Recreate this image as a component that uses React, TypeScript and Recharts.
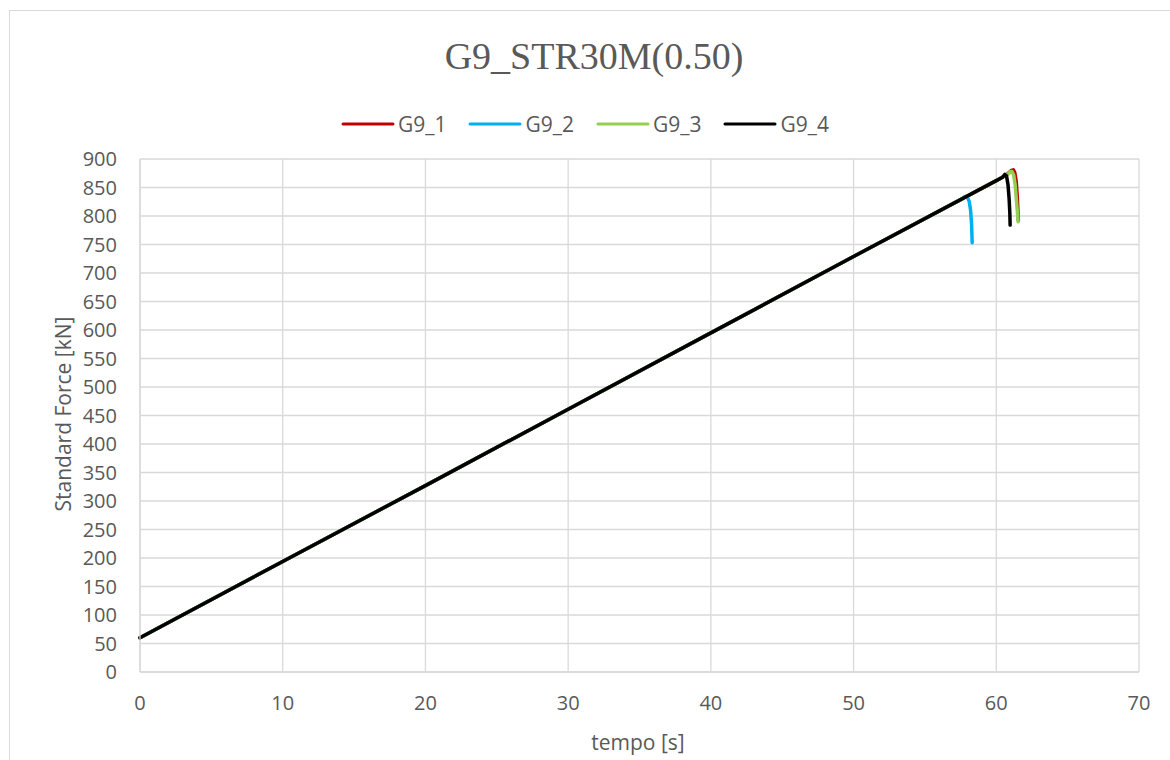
import React from "react"
import { LineChart, Line, XAxis, YAxis, CartesianGrid } from "recharts"

// tempo [s] / Standard Force [kN]
const g91Time = [0, 10, 20, 30, 40, 50, 60, 60.8, 61.05, 61.2, 61.3, 61.4, 61.48, 61.53, 61.55]
const g91Force = [60, 194, 327, 461, 595, 729, 862, 874, 880, 881, 876, 860, 830, 800, 792]

const g92Time = [0, 10, 20, 30, 40, 50, 57.6, 57.8, 57.95, 58.1, 58.2, 58.27, 58.31]
const g92Force = [60, 194, 327, 461, 595, 729, 830, 834, 834, 826, 810, 785, 753]

const g93Time = [0, 10, 20, 30, 40, 50, 60, 60.8, 61.0, 61.1, 61.22, 61.32, 61.42, 61.5, 61.53]
const g93Force = [60, 194, 327, 461, 595, 729, 862, 873, 878, 878, 872, 855, 825, 800, 790]

const g94Time = [0, 10, 20, 30, 40, 50, 60, 60.45, 60.6, 60.72, 60.82, 60.9, 60.95, 60.97]
const g94Force = [60, 194, 327, 461, 595, 729, 862, 868, 873, 870, 855, 830, 805, 784]

const xTicks = [0, 10, 20, 30, 40, 50, 60, 70]
const yTicks = [0, 50, 100, 150, 200, 250, 300, 350, 400, 450, 500, 550, 600, 650, 700, 750, 800, 850, 900]

const toPoints = (t: number[], f: number[]) => t.map((v, i) => ({ t: v, f: f[i] }))

const series = [
  { name: "G9_1", color: "#C00000", data: toPoints(g91Time, g91Force) },
  { name: "G9_2", color: "#00B0F0", data: toPoints(g92Time, g92Force) },
  { name: "G9_3", color: "#92D050", data: toPoints(g93Time, g93Force) },
  { name: "G9_4", color: "#000000", data: toPoints(g94Time, g94Force) },
]

const font = "'Open Sans', 'Noto Sans', sans-serif"
const textGray = "#595959"
const gridGray = "#d9d9d9"

function ChartLegend() {
  return (
    <div style={{ position: "absolute", left: 343, top: 110, display: "flex", fontFamily: font, fontSize: 21, color: textGray, lineHeight: "28px" }}>
      {series.map((s, i) => (
        <div key={s.name} style={{ display: "flex", alignItems: "center", marginLeft: i === 0 ? 0 : 24 }}>
          <svg width={54} height={8} style={{ marginLeft: -2 }}>
            <line x1={2} y1={4} x2={52} y2={4} stroke={s.color} strokeWidth={3} strokeLinecap="round" />
          </svg>
          <span style={{ marginLeft: 3 }}>{s.name}</span>
        </div>
      ))}
    </div>
  )
}

export default function App() {
  return (
    <div style={{ position: "absolute", left: 0, top: 0, width: 1170, height: 760, overflow: "hidden", background: "#fff" }}>
      <div style={{ position: "absolute", left: 9, top: 10, width: 1200, height: 800, border: `1px solid ${gridGray}`, boxSizing: "border-box" }} />
      <div style={{ position: "absolute", left: 0, width: 1188, top: 34, textAlign: "center", fontFamily: "'Liberation Serif', serif", fontSize: 38, color: textGray }}>
        G9_STR30M(0.50)
      </div>
      <ChartLegend />
      <div style={{ position: "absolute", left: 0, top: 0 }}>
        <LineChart width={1170} height={760} margin={{ top: 159, right: 31, left: 80, bottom: 48 }}>
          <CartesianGrid stroke={gridGray} strokeWidth={1.3} />
          <XAxis
            dataKey="t"
            type="number"
            domain={[0, 70]}
            ticks={xTicks}
            allowDuplicatedCategory={false}
            height={40}
            tickLine={false}
            tickMargin={18}
            axisLine={{ stroke: gridGray, strokeWidth: 1.3 }}
            tick={{ fill: textGray, fontSize: 20, fontFamily: font }}
          />
          <YAxis
            dataKey="f"
            type="number"
            domain={[0, 900]}
            ticks={yTicks}
            width={60}
            tickLine={false}
            tickMargin={17}
            axisLine={{ stroke: gridGray, strokeWidth: 1.3 }}
            tick={{ fill: textGray, fontSize: 20, fontFamily: font }}
          />
          {series.map((s) => (
            <Line
              key={s.name}
              data={s.data}
              dataKey="f"
              name={s.name}
              type="linear"
              stroke={s.color}
              strokeWidth={3.5}
              strokeLinejoin="round"
              strokeLinecap="round"
              dot={false}
              isAnimationActive={false}
            />
          ))}
        </LineChart>
      </div>
      <div style={{ position: "absolute", left: 63, top: 414, transform: "translate(-50%, -50%) rotate(-90deg)", whiteSpace: "nowrap", fontFamily: font, fontSize: 21, color: textGray }}>
        Standard Force [kN]
      </div>
      <div style={{ position: "absolute", left: 638, top: 742, transform: "translate(-50%, -50%)", whiteSpace: "nowrap", fontFamily: font, fontSize: 21, color: textGray }}>
        tempo [s]
      </div>
    </div>
  )
}
